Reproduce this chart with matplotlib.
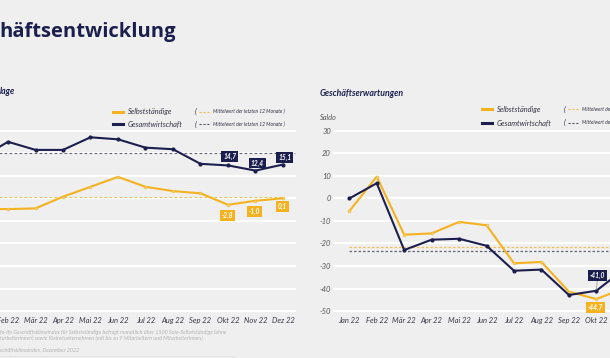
import matplotlib
matplotlib.use('Agg')
import matplotlib.pyplot as plt
from matplotlib.lines import Line2D

plt.rcParams['font.family'] = ['Lato', 'DejaVu Sans']

months = ['Jan 22', 'Feb 22', 'Mär 22', 'Apr 22', 'Mai 22', 'Jun 22',
          'Jul 22', 'Aug 22', 'Sep 22', 'Okt 22', 'Nov 22', 'Dez 22']
# Geschäftslage (left panel, cut off on the left)
lage_selbst = [-4.6, -4.7, -4.4, 0.8, 5.2, 9.6, 5.2, 3.3, 2.3, -2.8, -1.0, 0.1]
lage_gesamt = [18.0, 25.2, 21.6, 21.6, 27.2, 26.3, 22.6, 21.9, 15.4, 14.7, 12.4, 15.1]
lage_mean_selbst, lage_mean_gesamt = 0.8, 20.1
# Geschäftserwartungen (right panel, cut off on the right)
erw_selbst = [-5.6, 9.7, -16.1, -15.5, -10.4, -11.9, -28.8, -28.2, -41.4, -44.7, -40.0]
erw_gesamt = [0.0, 6.8, -22.9, -18.3, -17.9, -21.0, -32.1, -31.6, -42.9, -41.0, -31.5]
erw_mean_selbst, erw_mean_gesamt = -21.4, -23.2
yticks = [30, 20, 10, 0, -10, -20, -30, -40, -50]

ORANGE = '#f4b220'
NAVY = '#1c1f4e'
BG = '#efefef'
W, H = 610, 358

fig = plt.figure(figsize=(W / 100, H / 100), dpi=100, facecolor=BG)


def fx(x):
    return x / W


def fy(y):
    return 1 - y / H


def fmt(v):
    return f'{v:.1f}'.replace('.', ',')


def panel(rect, xlim, show_y):
    ax = fig.add_axes(rect, facecolor=BG)
    ax.set_yticks(yticks)
    ax.set_yticklabels([str(t) for t in yticks], fontsize=5.5, style='italic', color='#555555')
    ax.set_xticks(range(len(months)))
    ax.set_xticklabels(months, fontsize=5.5, style='italic', color='#3a3a4a')
    # limits after the ticks, otherwise set_xticks widens the view
    ax.set_xlim(*xlim)
    ax.set_ylim(-52, 32)
    ax.tick_params(length=0, pad=1.5, labelleft=show_y)
    ax.tick_params(axis='x', pad=1)
    ax.grid(axis='y', color='white', lw=1.6)
    ax.set_axisbelow(True)
    for s in ax.spines.values():
        s.set_visible(False)
    return ax


def box(ax, i, v, color, dx, dy, lead=False):
    kw = {}
    if lead:
        kw['arrowprops'] = dict(arrowstyle='-', color='#888888', lw=0.5, shrinkA=0, shrinkB=1)
    ax.annotate(fmt(v), (i, v), textcoords='offset points', xytext=(dx, dy),
                ha='center', va='center', fontsize=4.8, fontweight='bold', style='italic',
                color='white', zorder=6, annotation_clip=False,
                bbox=dict(boxstyle='square,pad=0.28', fc=color, ec='none'), **kw)


yb, yt = 315.5, 126.5
ax1 = panel([0, fy(yb), fx(296), (yb - yt) / H], (0.709, 11.473), False)
ax2 = panel([fx(333), fy(yb), fx(277), (yb - yt) / H], (-0.594, 9.497), True)

MEAN_NAVY = '#666677'
MEAN_ORANGE = '#efbf55'

# left panel
x1 = range(len(lage_selbst))
ax1.hlines(lage_mean_gesamt, 0, 11.45, colors=MEAN_NAVY, lw=0.8, linestyles=(0, (2.5, 2)), zorder=2)
ax1.hlines(lage_mean_selbst, 0, 11, colors=MEAN_ORANGE, lw=0.8, linestyles=(0, (2.5, 2)), zorder=2)
ax1.plot(x1, lage_gesamt, color=NAVY, lw=1.5, marker='o', ms=2, zorder=4)
ax1.plot(x1, lage_selbst, color=ORANGE, lw=1.5, marker='o', ms=2, mfc='#f8d680', mec=ORANGE, mew=0.4, zorder=4)
for i, dy in zip([9, 10, 11], [6.6, 5.5, 5.2]):
    box(ax1, i, lage_gesamt[i], NAVY, 1.2, dy)
for i, dy in zip([9, 10, 11], [-7.9, -7.7, -5.8]):
    box(ax1, i, lage_selbst[i], ORANGE, -0.5, dy)

# right panel
ax2.hlines(erw_mean_gesamt, 0, 11, colors=MEAN_NAVY, lw=0.9, linestyles=(0, (2, 1.6)), zorder=2)
ax2.hlines(erw_mean_selbst, 0, 11, colors=MEAN_ORANGE, lw=0.9, linestyles=(0, (2, 1.6)), zorder=2)
ax2.plot(range(len(erw_selbst)), erw_selbst, color=ORANGE, lw=1.5, marker='o', ms=2,
         mfc='#f8d680', mec=ORANGE, mew=0.4, zorder=4)
ax2.plot(range(len(erw_gesamt)), erw_gesamt, color=NAVY, lw=1.5, marker='o', ms=2, zorder=5)
box(ax2, 9, erw_gesamt[9], NAVY, 1, 11, lead=True)
box(ax2, 9, erw_selbst[9], ORANGE, -0.7, -6)

# titles (the slide is cropped, only the visible part of each text is shown)
fig.text(fx(-1), fy(32.5), 'häftsentwicklung', ha='left', va='center',
         fontsize=14.5, fontweight='bold', color=NAVY, family=['Open Sans', 'DejaVu Sans'])
fig.text(fx(0), fy(92), 'lage', ha='left', va='center',
         fontsize=6.3, fontweight='bold', style='italic', color=NAVY)
fig.text(fx(320), fy(94), 'Geschäftserwartungen', ha='left', va='center',
         fontsize=6.3, fontweight='bold', style='italic', color=NAVY)
fig.text(fx(320), fy(117), 'Saldo', ha='left', va='center', fontsize=5.3,
         style='italic', color='#555555')


# legends
def legend(x0, rows):
    for y, name, col, mcol in rows:
        fig.add_artist(Line2D([fx(x0), fx(x0 + 10)], [fy(y), fy(y)], color=col, lw=2.2))
        fig.text(fx(x0 + 15), fy(y), name, ha='left', va='center', fontsize=5.3,
                 style='italic', color='#333344')
        fig.text(fx(x0 + 82), fy(y), '(', ha='left', va='center', fontsize=5.3,
                 style='italic', color='#333344')
        fig.add_artist(Line2D([fx(x0 + 86), fx(x0 + 97)], [fy(y), fy(y)], color=mcol,
                              lw=0.8, ls=(0, (2, 1.5))))
        fig.text(fx(x0 + 100), fy(y), 'Mittelwert der letzten 12 Monate )', ha='left',
                 va='center', fontsize=3.6, style='italic', color='#333344')


legend(113, [(111.7, 'Selbstständige', ORANGE, MEAN_ORANGE),
             (124.0, 'Gesamtwirtschaft', NAVY, '#555566')])
legend(482, [(109.3, 'Selbstständige', ORANGE, MEAN_ORANGE),
             (122.7, 'Gesamtwirtschaft', NAVY, '#555566')])

# footnote
foot = dict(ha='left', va='center', fontsize=3.9, style='italic', color='#b4b4b4')
fig.text(fx(0), fy(332), 'fo-ifo Geschäftsklimaindex für Selbstständige befragt monatlich '
         'über 1500 Solo-Selbstständige (ohne', **foot)
fig.text(fx(0), fy(338.5), 'tarbeiterinnen) sowie Kleinstunternehmen (mit bis zu 9 '
         'Mitarbeitern und Mitarbeiterinnen).', **foot)
fig.text(fx(0), fy(350), 'schäftsklimaindex, Dezember 2022', **foot)
fig.add_artist(Line2D([0, fx(235)], [fy(356), fy(356)], color='#e2e2e2', lw=0.8))

fig.savefig('out.png', dpi=100, facecolor=BG)
